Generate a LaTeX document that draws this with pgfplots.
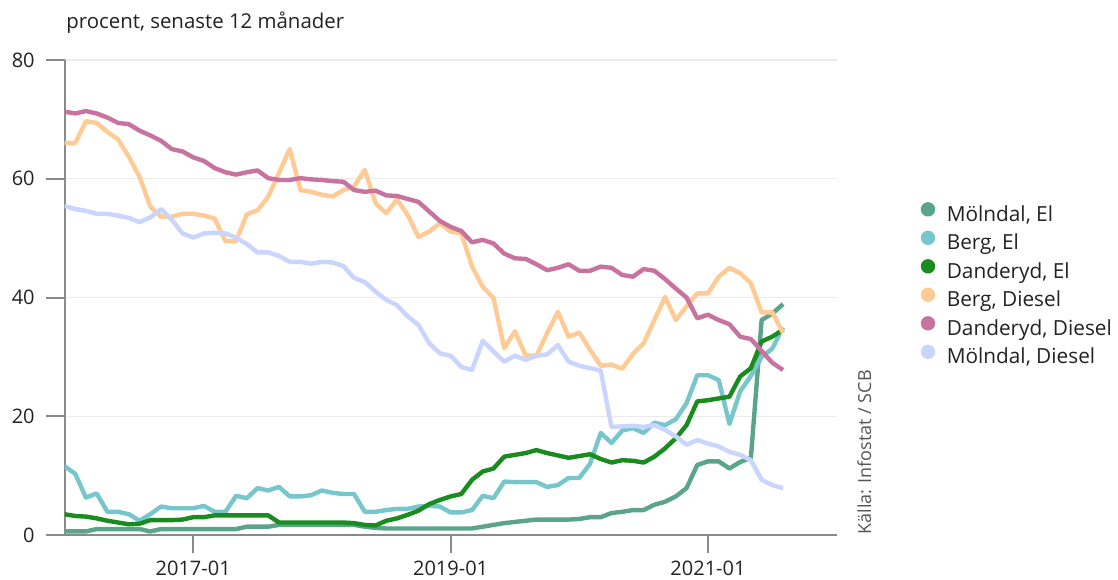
\documentclass[border=0pt]{standalone}
\usepackage{fontspec}
\setmainfont{Open Sans}
\usepackage{pgfplots}
\usepackage{pgfplotstable}
\pgfplotsset{compat=1.18}
\definecolor{cME}{HTML}{5AA58A}
\definecolor{cBE}{HTML}{76C6CC}
\definecolor{cDE}{HTML}{1A8C1F}
\definecolor{cBD}{HTML}{FFCA93}
\definecolor{cDD}{HTML}{C8739F}
\definecolor{cMD}{HTML}{C9D4FF}
\definecolor{axgray}{HTML}{8A8A8A}
\definecolor{gridgray}{HTML}{EBEBEB}
\definecolor{txt}{HTML}{222222}
\definecolor{srcgray}{HTML}{555555}

\pgfplotstableread{
m ME BE DE BD DD MD
0 0.6 11.6 3.5 66.0 71.3 55.4
1 0.6 10.3 3.2 66.0 71.0 54.9
2 0.6 6.3 3.1 69.7 71.4 54.6
3 1.0 7.0 2.8 69.4 71.0 54.1
4 1.0 3.9 2.4 67.9 70.3 54.1
5 1.0 3.9 2.1 66.6 69.4 53.8
6 1.0 3.5 1.8 63.7 69.2 53.4
7 1.0 2.4 1.9 60.3 68.1 52.7
8 0.6 3.5 2.5 55.3 67.3 53.5
9 1.0 4.8 2.5 53.6 66.4 54.9
10 1.0 4.5 2.5 53.6 65.0 53.1
11 1.0 4.5 2.6 54.1 64.6 50.8
12 1.0 4.5 3.0 54.1 63.6 50.1
13 1.0 4.9 3.0 53.8 63.0 50.8
14 1.0 3.9 3.3 53.3 61.8 50.9
15 1.0 3.9 3.3 49.5 61.1 50.8
16 1.0 6.6 3.3 49.5 60.7 50.1
17 1.4 6.2 3.3 54.0 61.1 49.0
18 1.4 7.9 3.3 54.7 61.4 47.6
19 1.4 7.5 3.3 57.0 60.1 47.6
20 1.7 8.1 2.1 61.0 59.8 47.0
21 1.7 6.5 2.1 65.0 59.8 46.0
22 1.7 6.5 2.1 58.1 60.1 46.0
23 1.7 6.7 2.1 57.8 59.9 45.7
24 1.7 7.5 2.1 57.3 59.8 46.0
25 1.7 7.1 2.1 57.0 59.6 45.9
26 1.7 6.9 2.1 58.1 59.5 45.3
27 1.7 6.9 2.0 58.7 58.1 43.3
28 1.4 3.9 1.7 61.5 57.8 42.6
29 1.2 3.9 1.6 55.9 58.0 41.0
30 1.1 4.2 2.4 54.2 57.2 39.6
31 1.1 4.4 2.8 56.5 57.1 38.7
32 1.1 4.4 3.4 53.9 56.6 36.8
33 1.1 4.8 4.1 50.2 56.1 35.4
34 1.1 4.9 5.2 51.1 54.5 32.3
35 1.1 4.8 5.9 52.5 52.9 30.6
36 1.1 3.8 6.5 51.1 51.9 30.2
37 1.1 3.8 6.9 50.8 51.2 28.3
38 1.1 4.2 9.3 45.2 49.3 27.8
39 1.4 6.6 10.7 41.8 49.7 32.7
40 1.7 6.2 11.2 39.9 49.1 30.9
41 2.0 9.0 13.2 31.5 47.4 29.2
42 2.2 8.9 13.5 34.3 46.6 30.2
43 2.4 8.9 13.8 30.2 46.5 29.5
44 2.6 8.9 14.3 30.2 45.6 30.2
45 2.6 8.1 13.8 34.0 44.6 30.4
46 2.6 8.4 13.4 37.6 45.0 32.0
47 2.6 9.6 13.0 33.4 45.6 29.2
48 2.7 9.6 13.3 34.1 44.5 28.5
49 3.0 12.0 13.6 31.2 44.5 28.1
50 3.0 17.2 12.8 28.5 45.2 27.7
51 3.7 15.5 12.2 28.7 45.0 18.2
52 3.9 17.6 12.6 28.0 43.8 18.3
53 4.2 18.0 12.5 30.5 43.5 18.4
54 4.2 17.2 12.2 32.3 44.8 18.2
55 5.1 18.9 13.2 36.2 44.5 18.5
56 5.6 18.5 14.6 40.1 43.1 17.7
57 6.5 19.5 16.3 36.2 41.5 16.6
58 7.9 22.2 18.5 38.5 40.0 15.2
59 11.8 26.9 22.5 40.7 36.5 16.0
60 12.4 26.9 22.7 40.7 37.1 15.4
61 12.4 26.1 23.0 43.5 36.2 14.9
62 11.2 18.7 23.3 45.0 35.5 14.0
63 12.3 24.2 26.7 44.1 33.4 13.5
64 13.0 26.8 28.1 42.4 33.0 12.6
65 36.2 30.0 32.6 37.5 31.0 9.3
66 37.3 31.4 33.4 37.5 29.0 8.4
67 38.9 35.0 34.6 34.0 27.8 7.9
}\data

\begin{document}
\begin{tikzpicture}
\path[use as bounding box] (0,0) rectangle (559bp,290bp);
\begin{axis}[
  at={(32.25bp,22.5bp)}, anchor=south west,
  scale only axis, width=386.1bp, height=237.5bp,
  xmin=0, xmax=72, ymin=0, ymax=80,
  axis lines*=left,
  axis line style={draw=axgray, line width=1bp},
  xtick={12,36,60}, xticklabels={2017-01,2019-01,2021-01},
  ytick={0,20,40,60,80},
  tick align=outside, major tick length=9bp,
  tick style={draw=axgray, line width=1bp},
  ymajorgrids, major grid style={draw=gridgray, line width=0.7bp},
  /pgf/number format/assume math mode=true,
  ticklabel style={font=\fontsize{10bp}{12bp}\selectfont, text=txt},
  yticklabel style={xshift=-2.4bp},
  xticklabel style={inner sep=0pt, yshift=-4.0bp},
  every axis plot/.append style={line width=2.2bp, line join=round, mark=none},
  legend image code/.code={\fill[#1, draw=none] (3.6bp,3.4bp) circle (3.6bp);},
  legend cell align=left,
  legend style={at={(rel axis cs:1.1089,0.7008)}, anchor=north west,
    draw=none, fill=none, inner sep=0pt, outer sep=0pt,
    row sep=2.25bp, column sep=5.8bp,
    font=\fontsize{10.4bp}{12bp}\selectfont, text=txt,
    nodes={inner sep=0pt, text height=7.6bp, text depth=2.4bp}},
]
\addplot[color=cME] table[x=m, y=ME] {\data};
\addlegendentry{Mölndal, El}
\addplot[color=cBE] table[x=m, y=BE] {\data};
\addlegendentry{Berg, El}
\addplot[color=cDE] table[x=m, y=DE] {\data};
\addlegendentry{Danderyd, El}
\addplot[color=cBD] table[x=m, y=BD] {\data};
\addlegendentry{Berg, Diesel}
\addplot[color=cDD] table[x=m, y=DD] {\data};
\addlegendentry{Danderyd, Diesel}
\addplot[color=cMD] table[x=m, y=MD] {\data};
\addlegendentry{Mölndal, Diesel}
\end{axis}
\node[anchor=base west, inner sep=0pt, font=\fontsize{10.2bp}{12bp}\selectfont, text=txt] at (33bp,275.5bp) {procent, senaste 12 månader};
\node[rotate=90, anchor=base west, inner sep=0pt, font=\fontsize{9bp}{10bp}\selectfont, text=srcgray] at (435.5bp,22.5bp) {Källa: Infostat / SCB};
\end{tikzpicture}
\end{document}
